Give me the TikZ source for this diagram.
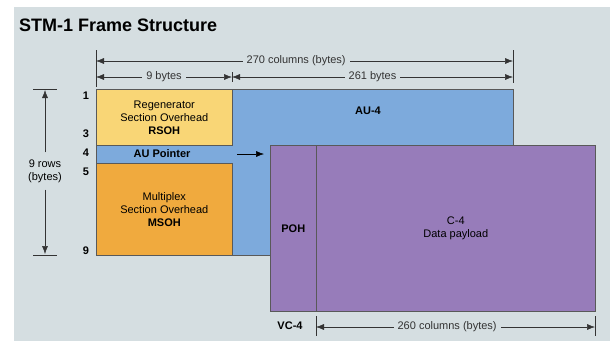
\documentclass[tikz,border=0pt]{standalone}
\usepackage{fontspec}
\setmainfont{Liberation Sans}
\usepackage{xcolor}
\usetikzlibrary{arrows.meta,positioning,calc}

\definecolor{bg}{HTML}{D5DEE1}
\definecolor{rsohcol}{HTML}{F9D676}
\definecolor{msohcol}{HTML}{F0AA3E}
\definecolor{aucol}{HTML}{7DAADC}
\definecolor{vccol}{HTML}{977CBA}

\tikzset{
  block/.style={rectangle,draw=black!65,line width=0.6pt,anchor=north west,inner sep=0pt},
  tip/.style={-{Latex[length=8pt,width=6pt]}},
  dim/.style={{Latex[length=8pt,width=6pt]}-{Latex[length=8pt,width=6pt]},line width=0.5pt,black!80},
  tick/.style={line width=0.5pt,black!80},
  lbl/.style={font=\fontsize{11}{13}\selectfont,align=center,inner sep=1pt},
  num/.style={font=\fontsize{11}{13}\selectfont\bfseries}
}

\begin{document}
\begin{tikzpicture}[x=1pt,y=-1pt]
\useasboundingbox (0,0) rectangle (610,341);
\fill[white] (0,0) rectangle (610,341);
\fill[bg] (14,7) rectangle (610,341);

% title
\node[anchor=base west,font=\fontsize{18}{20}\selectfont\bfseries,inner sep=0pt] (title) at (19,31) {STM-1 Frame Structure};

% AU-4 lies under the overheads
\node[block,fill=aucol,minimum width=417pt,minimum height=166pt] (au) at (96,89) {};
\node[num] (aulbl) at (368,111) {AU-4};

\node[block,fill=rsohcol,minimum width=136pt,minimum height=56pt,lbl] (rsoh) at (96,89)
  {Regenerator\\Section Overhead\\\textbf{RSOH}};
\node[block,fill=msohcol,minimum width=136pt,minimum height=92pt,lbl] (msoh) at (96,163)
  {Multiplex\\Section Overhead\\\textbf{MSOH}};
\node[num] (ptr) at (162,154) {AU Pointer};

% VC-4
\node[block,fill=vccol,minimum width=46pt,minimum height=166pt] (poh) at (270,145) {};
\node[block,fill=vccol,minimum width=279pt,minimum height=166pt,lbl] (c4) at (316,145)
  {C-4\\Data payload};
\node[num] at (poh.center) {POH};
\node[num] (vc) at (290,326) {VC-4};

\coordinate (pa) at (237,154);
\coordinate (pb) at (264,154);
\draw[tip,line width=0.5pt] (pa) -- (pb);

% row numbers
\foreach \r/\y in {1/96,3/134,4/153,5/172,9/251}
  \node[num] (row\r) at (86,\y) {\r};

% column dimensions
\coordinate (t0) at (96,61);
\coordinate (t1) at (513,61);
\coordinate (s0) at (96,77);
\coordinate (s1) at (232,77);
\coordinate (s2) at (513,77);
\draw[tick] (96,50) -- (96,87);
\draw[tick] (513,50) -- (513,83);
\draw[tick] (232,72) -- (232,82);
\draw[dim] (t0) -- (t1) node[pos=0.48,fill=bg,lbl,inner xsep=4pt] {270 columns (bytes)};
\draw[dim] (s0) -- (s1) node[midway,fill=bg,lbl,inner xsep=4pt] {9 bytes};
\draw[dim] (s1) -- (s2) node[midway,fill=bg,lbl,inner xsep=4pt] {261 bytes};

% rows
\coordinate (r0) at (45,90);
\coordinate (r1) at (45,254);
\draw[tick] (33,89) -- (57,89);
\draw[tick] (33,255) -- (57,255);
\node[lbl] (rows) at (45,171) {9 rows\\(bytes)};
\draw[tip,tick] ($(rows.north)+(0,-6)$) -- (r0);
\draw[tip,tick] ($(rows.south)+(0,6)$) -- (r1);

% payload width
\coordinate (b0) at (316,327);
\coordinate (b1) at (595,327);
\draw[tick] (316,316) -- (316,336);
\draw[tick] (595,316) -- (595,336);
\draw[dim] (b0) -- (b1) node[pos=0.47,fill=bg,lbl,inner xsep=4pt] {260 columns (bytes)};
\end{tikzpicture}
\end{document}
